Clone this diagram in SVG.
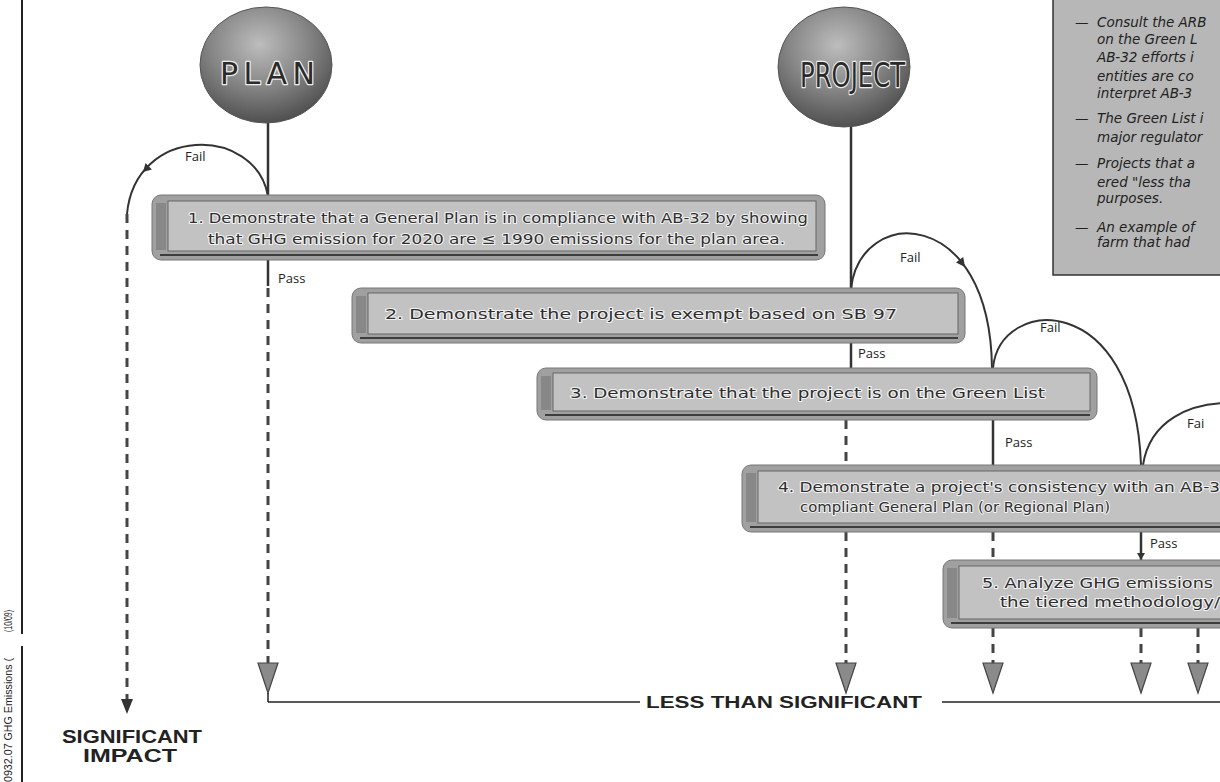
<svg xmlns="http://www.w3.org/2000/svg" width="1220" height="782" viewBox="0 0 1220 782">
<defs>
<radialGradient id="ball" cx="45%" cy="32%" r="68%">
<stop offset="0" stop-color="#bdbdbd"/>
<stop offset="0.55" stop-color="#858585"/>
<stop offset="1" stop-color="#505050"/>
</radialGradient>
<style>
.box-outer{fill:#a0a0a0;stroke:#777;stroke-width:1}
.box-inner{fill:#c2c2c2;stroke:#666;stroke-width:1}
.box-tab{fill:#888}
.box-base{stroke:#3d3d3d;stroke-width:2}
.bt{font-family:"DejaVu Sans",sans-serif;font-size:14px;fill:#2e2e2e;stroke:#f2f2f2;stroke-width:2;paint-order:stroke;stroke-linejoin:round}
.ball{fill:url(#ball);stroke:#555;stroke-width:1}
.balltxt{font-family:"DejaVu Sans",sans-serif;fill:#2a2a2a;stroke:#eeeeee;stroke-width:2.5;paint-order:stroke;stroke-linejoin:round}
.lbl{font-family:"Open Sans","DejaVu Sans",sans-serif;font-size:13px;fill:#222}
.solid{stroke:#333;stroke-width:2.5;fill:none}
.dash{stroke:#444;stroke-width:3;stroke-dasharray:9 7;fill:none}
.arc{stroke:#333;stroke-width:2;fill:none}
.ah{fill:#333}
.big-ah{fill:#8a8a8a;stroke:#444;stroke-width:1.2}
.note{font-family:"DejaVu Sans",sans-serif;font-style:italic;font-size:13.5px;fill:#222}
.cap{font-family:"Liberation Sans",Arial,sans-serif;font-weight:bold;fill:#222}
.side{font-family:"Liberation Sans",Arial,sans-serif;font-size:10px;fill:#222}
</style>
</defs>
<rect width="1220" height="782" fill="#ffffff"/>

<g id="margin">
<line x1="22" y1="0" x2="22" y2="634" stroke="#222" stroke-width="2"/>
<line x1="22" y1="646" x2="22" y2="782" stroke="#222" stroke-width="2"/>
<text class="side" transform="translate(12,632) rotate(-90)" textLength="22" lengthAdjust="spacingAndGlyphs">(10/09)</text>
<text class="side" transform="translate(12,782) rotate(-90)" textLength="124" lengthAdjust="spacingAndGlyphs">0932.07 GHG Emissions (</text>
</g>

<g id="connectors">
<line class="solid" x1="268" y1="120" x2="268" y2="196"/>
<line class="solid" x1="851" y1="125" x2="851" y2="289"/>
<path class="arc" d="M268,196 C255,125 135,125 127,214"/>
<polygon class="ah" points="143,172 151.9,169.5 145.5,163.1"/>
<line class="dash" x1="127" y1="214" x2="127" y2="700"/>
<polygon class="ah" points="121,699 133,699 127,714"/>
<line class="solid" x1="268" y1="260" x2="268" y2="286"/>
<line class="dash" x1="268" y1="288" x2="268" y2="664"/>
<path class="arc" d="M851,289 C860,205 990,205 992,368"/>
<polygon class="ah" points="965,267 963.2,257.1 956,262.5"/>
<line class="solid" x1="851" y1="343" x2="851" y2="368"/>
<line class="dash" x1="846" y1="420" x2="846" y2="664"/>
<path class="arc" d="M993,368 C1000,295 1135,290 1141,465"/>
<line class="solid" x1="993" y1="420" x2="993" y2="465"/>
<line class="dash" x1="993" y1="532" x2="993" y2="664"/>
<path class="arc" d="M1143,465 C1150,420 1190,403 1230,403"/>
<line class="solid" x1="1141" y1="532" x2="1141" y2="560"/>
<polygon class="ah" points="1137,553 1145,553 1141,560"/>
<line class="dash" x1="1141" y1="628" x2="1141" y2="664"/>
<line class="dash" x1="1198" y1="628" x2="1198" y2="664"/>
<polygon class="big-ah" points="258,663 278,663 268,693"/>
<polygon class="big-ah" points="836,663 856,663 846,693"/>
<polygon class="big-ah" points="983,663 1003,663 993,693"/>
<polygon class="big-ah" points="1131,663 1151,663 1141,693"/>
<polygon class="big-ah" points="1188,663 1208,663 1198,693"/>
<line x1="268" y1="693" x2="268" y2="702" stroke="#222" stroke-width="1.5"/>
<line x1="268" y1="702" x2="640" y2="702" stroke="#222" stroke-width="1.5"/>
<line x1="942" y1="702" x2="1220" y2="702" stroke="#222" stroke-width="1.5"/>
<text class="lbl" x="185" y="161">Fail</text>
<text class="lbl" x="278" y="283">Pass</text>
<text class="lbl" x="900" y="262">Fail</text>
<text class="lbl" x="858" y="358">Pass</text>
<text class="lbl" x="1040" y="332">Fail</text>
<text class="lbl" x="1005" y="447">Pass</text>
<text class="lbl" x="1187" y="428">Fai</text>
<text class="lbl" x="1150" y="548">Pass</text>
</g>

<g id="plan">
<ellipse class="ball" cx="266" cy="65" rx="66" ry="58"/>
<text class="balltxt" x="220" y="84" font-size="30" textLength="95" lengthAdjust="spacing">PLAN</text>
</g>

<g id="project">
<ellipse class="ball" cx="844" cy="67" rx="66" ry="60"/>
<text class="balltxt" x="800" y="87" font-size="34" textLength="105" lengthAdjust="spacingAndGlyphs">PROJECT</text>
</g>

<g id="step1">
<rect class="box-outer" x="152" y="195" width="673" height="65" rx="9"/>
<rect class="box-tab" x="156" y="203" width="10" height="47"/>
<rect class="box-inner" x="168" y="201" width="648" height="50"/>
<line class="box-base" x1="160" y1="255" x2="818" y2="255"/>
<text class="bt" x="188" y="223" textLength="620" lengthAdjust="spacingAndGlyphs">1. Demonstrate that a General Plan is in compliance with AB-32 by showing</text>
<text class="bt" x="208" y="244" textLength="577" lengthAdjust="spacingAndGlyphs">that GHG emission for 2020 are ≤ 1990 emissions for the plan area.</text>
</g>

<g id="step2">
<rect class="box-outer" x="352" y="288" width="613" height="55" rx="9"/>
<rect class="box-tab" x="356" y="296" width="10" height="37"/>
<rect class="box-inner" x="368" y="293" width="590" height="41"/>
<line class="box-base" x1="360" y1="338" x2="958" y2="338"/>
<text class="bt" x="385" y="319" textLength="512" lengthAdjust="spacingAndGlyphs">2. Demonstrate the project is exempt based on SB 97</text>
</g>

<g id="step3">
<rect class="box-outer" x="537" y="368" width="560" height="52" rx="9"/>
<rect class="box-tab" x="541" y="376" width="10" height="34"/>
<rect class="box-inner" x="553" y="373" width="537" height="38"/>
<line class="box-base" x1="545" y1="415" x2="1090" y2="415"/>
<text class="bt" x="570" y="398" textLength="475" lengthAdjust="spacingAndGlyphs">3. Demonstrate that the project is on the Green List</text>
</g>

<g id="step4">
<rect class="box-outer" x="742" y="465" width="500" height="67" rx="9"/>
<rect class="box-tab" x="746" y="473" width="10" height="49"/>
<rect class="box-inner" x="758" y="471" width="480" height="52"/>
<line class="box-base" x1="750" y1="527" x2="1220" y2="527"/>
<text class="bt" x="778" y="492" textLength="442" lengthAdjust="spacingAndGlyphs">4. Demonstrate a project's consistency with an AB-3</text>
<text class="bt" x="800" y="512" textLength="310" lengthAdjust="spacingAndGlyphs">compliant General Plan (or Regional Plan)</text>
</g>

<g id="step5">
<rect class="box-outer" x="943" y="560" width="290" height="68" rx="9"/>
<rect class="box-tab" x="947" y="568" width="10" height="50"/>
<rect class="box-inner" x="959" y="566" width="280" height="53"/>
<line class="box-base" x1="951" y1="623" x2="1220" y2="623"/>
<text class="bt" x="982" y="588" textLength="231" lengthAdjust="spacingAndGlyphs">5. Analyze GHG emissions</text>
<text class="bt" x="1000" y="607" textLength="220" lengthAdjust="spacingAndGlyphs">the tiered methodology/</text>
</g>

<g id="notes">
<rect x="1053" y="-2" width="172" height="277" fill="#b7b7b7" stroke="#333" stroke-width="1.5"/>
<text class="note" x="1075" y="27">—</text>
<text class="note" x="1097" y="27">Consult the ARB</text>
<text class="note" x="1097" y="44">on the Green L</text>
<text class="note" x="1097" y="62">AB-32 efforts i</text>
<text class="note" x="1097" y="81">entities are co</text>
<text class="note" x="1097" y="98">interpret AB-3</text>
<text class="note" x="1075" y="123">—</text>
<text class="note" x="1097" y="123">The Green List i</text>
<text class="note" x="1097" y="142">major regulator</text>
<text class="note" x="1075" y="168">—</text>
<text class="note" x="1097" y="168">Projects that a</text>
<text class="note" x="1097" y="187">ered "less tha</text>
<text class="note" x="1097" y="203">purposes.</text>
<text class="note" x="1075" y="232">—</text>
<text class="note" x="1097" y="232">An example of</text>
<text class="note" x="1097" y="247">farm that had</text>
</g>

<g id="outcomes">
<text class="cap" x="62" y="743" font-size="18" textLength="140" lengthAdjust="spacingAndGlyphs">SIGNIFICANT</text>
<text class="cap" x="83" y="762" font-size="18" textLength="94" lengthAdjust="spacingAndGlyphs">IMPACT</text>
<text class="cap" x="646" y="708" font-size="16" textLength="276" lengthAdjust="spacingAndGlyphs">LESS THAN SIGNIFICANT</text>
</g>
</svg>
